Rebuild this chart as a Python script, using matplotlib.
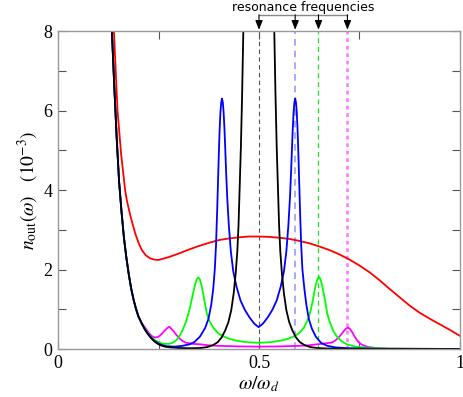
import numpy as np
import matplotlib.pyplot as plt
import matplotlib.transforms as mtransforms

plt.rcParams['font.family'] = ['Liberation Serif', 'DejaVu Serif']
plt.rcParams['mathtext.fontset'] = 'stix'

# low-frequency wall shared by the black/blue/green/magenta curves
wall_x = [0.128, 0.134, 0.140, 0.146, 0.152, 0.158, 0.164, 0.170, 0.176,
          0.182, 0.188, 0.194, 0.200, 0.208]
wall_y = [9.5, 8.0, 6.6, 5.3, 4.2, 3.45, 2.8, 2.3, 1.88,
          1.52, 1.24, 1.01, 0.82, 0.65]

black_x = [0.216, 0.224, 0.232, 0.240, 0.248, 0.256, 0.266, 0.28, 0.30,
           0.33, 0.355, 0.372, 0.386, 0.397, 0.407, 0.416, 0.424, 0.431,
           0.437, 0.442, 0.446, 0.449, 0.452, 0.455, 0.458, 0.461, 0.464,
           0.535, 0.538, 0.541, 0.544, 0.547, 0.550, 0.553, 0.557, 0.562,
           0.568, 0.575, 0.583, 0.592, 0.602, 0.613, 0.627, 0.644, 0.67,
           0.72, 0.80, 1.0]
black_y = [0.49, 0.37, 0.27, 0.19, 0.13, 0.09, 0.06, 0.04, 0.025,
           0.02, 0.025, 0.05, 0.10, 0.17, 0.29, 0.47, 0.68, 0.98,
           1.4, 1.9, 2.45, 3.1, 4.1, 5.1, 6.4, 8.0, 9.5,
           9.5, 8.0, 6.4, 5.1, 4.1, 3.1, 2.45, 1.9, 1.4,
           0.98, 0.68, 0.47, 0.29, 0.17, 0.10, 0.05, 0.025, 0.012,
           0.005, 0.002, 0.0]

blue_x = [0.216, 0.224, 0.232, 0.240, 0.248, 0.256, 0.27, 0.29, 0.31,
          0.328, 0.340, 0.353, 0.366, 0.374, 0.381, 0.386, 0.390, 0.393,
          0.396, 0.398, 0.400, 0.402, 0.404, 0.406, 0.408, 0.410, 0.412,
          0.414, 0.416, 0.418, 0.421, 0.425, 0.430, 0.436, 0.444, 0.454,
          0.465, 0.476, 0.488, 0.499, 0.510, 0.522, 0.533, 0.544, 0.554,
          0.562, 0.568, 0.573, 0.577, 0.580, 0.582, 0.584, 0.586, 0.588,
          0.590, 0.592, 0.594, 0.596, 0.598, 0.600, 0.602, 0.605, 0.608,
          0.613, 0.618, 0.624, 0.632, 0.642, 0.655, 0.67, 0.69, 0.72,
          0.80, 1.0]
blue_y = [0.50, 0.38, 0.28, 0.20, 0.15, 0.11, 0.07, 0.06, 0.08,
          0.12, 0.18, 0.31, 0.53, 0.75, 1.1, 1.5, 2.0, 2.6,
          3.5, 4.2, 4.9, 5.5, 5.95, 6.2, 6.3, 6.2, 5.95,
          5.55, 5.05, 4.5, 3.8, 3.1, 2.45, 1.95, 1.57, 1.22,
          0.98, 0.80, 0.64, 0.55, 0.64, 0.80, 0.98, 1.22, 1.57,
          1.95, 2.45, 3.1, 3.8, 4.5, 5.05, 5.55, 5.95, 6.2,
          6.3, 6.2, 5.95, 5.5, 4.9, 4.2, 3.5, 2.6, 2.0,
          1.5, 1.1, 0.75, 0.5, 0.3, 0.15, 0.08, 0.04, 0.02,
          0.005, 0.0]

green_x = [0.216, 0.224, 0.232, 0.240, 0.248, 0.256, 0.266, 0.276, 0.286,
           0.294, 0.303, 0.311, 0.318, 0.324, 0.329, 0.333, 0.337, 0.341,
           0.345, 0.349, 0.353, 0.357, 0.361, 0.365, 0.370, 0.376, 0.386,
           0.398, 0.411, 0.425, 0.444, 0.47, 0.499, 0.528, 0.554, 0.573,
           0.587, 0.600, 0.612, 0.622, 0.628, 0.633, 0.637, 0.641, 0.645,
           0.649, 0.653, 0.657, 0.661, 0.665, 0.670, 0.676, 0.684, 0.694,
           0.706, 0.72, 0.74, 0.77, 0.82, 1.0]
green_y = [0.51, 0.39, 0.30, 0.23, 0.18, 0.15, 0.13, 0.13, 0.16,
           0.22, 0.34, 0.50, 0.68, 0.88, 1.07, 1.26, 1.45, 1.62,
           1.75, 1.80, 1.75, 1.60, 1.40, 1.18, 0.90, 0.72, 0.54,
           0.40, 0.32, 0.26, 0.21, 0.17, 0.155, 0.17, 0.21, 0.26,
           0.32, 0.40, 0.54, 0.75, 0.95, 1.18, 1.40, 1.60, 1.75,
           1.82, 1.75, 1.60, 1.40, 1.18, 0.88, 0.68, 0.47, 0.31,
           0.19, 0.11, 0.06, 0.03, 0.01, 0.0]

magenta_x = [0.218, 0.226, 0.234, 0.241, 0.248, 0.254, 0.260, 0.266, 0.272,
             0.277, 0.282, 0.288, 0.294, 0.302, 0.310, 0.318, 0.335, 0.351,
             0.378, 0.398, 0.45, 0.499, 0.55, 0.60, 0.62, 0.647, 0.68,
             0.688, 0.696, 0.704, 0.710, 0.716, 0.721, 0.726, 0.732, 0.738,
             0.744, 0.751, 0.76, 0.772, 0.79, 0.82, 1.0]
magenta_y = [0.52, 0.40, 0.32, 0.29, 0.30, 0.34, 0.40, 0.47, 0.53,
             0.56, 0.51, 0.44, 0.36, 0.27, 0.20, 0.16, 0.13, 0.12,
             0.09, 0.08, 0.065, 0.06, 0.065, 0.08, 0.09, 0.12, 0.16,
             0.20, 0.27, 0.36, 0.44, 0.51, 0.54, 0.51, 0.42, 0.31,
             0.22, 0.14, 0.09, 0.05, 0.025, 0.01, 0.0]

red_x = [0.133, 0.139, 0.148, 0.157, 0.167, 0.171, 0.180, 0.192, 0.200,
         0.208, 0.218, 0.229, 0.240, 0.25, 0.275, 0.30, 0.325, 0.35,
         0.375, 0.40, 0.425, 0.45, 0.475, 0.50, 0.525, 0.55, 0.575,
         0.60, 0.625, 0.65, 0.675, 0.70, 0.725, 0.75, 0.775, 0.80,
         0.825, 0.85, 0.875, 0.90, 0.925, 0.95, 0.975, 1.0]
red_y = [9.5, 8.0, 6.0, 4.9, 4.0, 3.75, 3.35, 2.91, 2.68,
         2.50, 2.36, 2.28, 2.25, 2.24, 2.31, 2.40, 2.50, 2.59,
         2.67, 2.74, 2.78, 2.81, 2.83, 2.83, 2.82, 2.80, 2.77,
         2.72, 2.66, 2.58, 2.49, 2.38, 2.25, 2.10, 1.93, 1.73,
         1.51, 1.30, 1.09, 0.91, 0.76, 0.62, 0.48, 0.33]

# resonance frequencies (dashed markers)
res_freqs = [0.5, 0.590, 0.648, 0.720]
res_colors = ['#555555', '#9a9aff', '#22dd22', '#ff77ff']
res_styles = [(0, (4, 3)), (0, (4, 3)), (0, (4, 3)), (0, (1.5, 1.5))]
res_widths = [0.8, 1.2, 0.9, 1.8]

fig = plt.figure(figsize=(4.63, 3.97), dpi=100)
ax = fig.add_axes([0.1253, 0.1209, 0.8682, 0.8010])

for f, c, ls, lw in zip(res_freqs, res_colors, res_styles, res_widths):
    ax.axvline(f, color=c, linestyle=ls, linewidth=lw, zorder=1)

curves = [(red_x, red_y, 'red', False),
          (magenta_x, magenta_y, '#ff00ff', True),
          (green_x, green_y, '#00ff00', True),
          (blue_x, blue_y, 'blue', True),
          (black_x, black_y, 'black', True)]
for xs, ys, col, use_wall in curves:
    if use_wall:
        xs = wall_x + xs
        ys = wall_y + ys
    ax.plot(xs, ys, color=col, linewidth=1.3, zorder=2, solid_joinstyle='round')

ax.set_xlim(0, 1)
ax.set_ylim(0, 8)
ax.set_xticks([0, 0.5, 1])
ax.set_xticklabels(['0', '0.5', '1'])
ax.set_xticks([0.25, 0.75], minor=True)
ax.set_yticks([0, 2, 4, 6, 8])
ax.set_yticks([1, 3, 5, 7], minor=True)
ax.tick_params(which='both', direction='in', top=True, right=True,
               length=6, width=0.8, color='#555555', labelsize=13, pad=4)
for s in ax.spines.values():
    s.set_color('#999999')
    s.set_linewidth(1.0)

ax.set_xlabel(r'$\omega/\omega_d$', fontsize=14, labelpad=2)
ax.set_ylabel(r'$n_{\rm out}(\omega)\quad(10^{-3})$', fontsize=14, labelpad=2)

# bracket with arrows pointing at the resonance frequencies
trans = mtransforms.blended_transform_factory(ax.transData, ax.transAxes)
ax.plot([res_freqs[0], res_freqs[-1]], [1.050, 1.050], color='#888888',
        linewidth=1.0, transform=trans, clip_on=False)
for f in res_freqs:
    ax.annotate('', xy=(f, 1.004), xycoords=trans, xytext=(f, 1.051),
                textcoords=trans,
                arrowprops=dict(arrowstyle='-|>,head_width=0.22,head_length=0.55',
                                color='black', linewidth=0.8, shrinkA=0, shrinkB=0))
ax.text(0.61, 1.074, 'resonance frequencies', transform=trans, ha='center',
        va='center', fontsize=9, family='DejaVu Sans')

fig.savefig('out.png', dpi=100)
